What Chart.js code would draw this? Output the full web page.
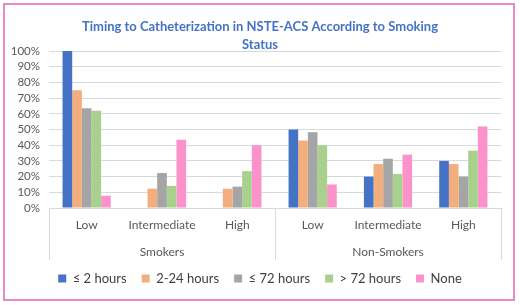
<!DOCTYPE html>
<html>
<head>
<meta charset="utf-8">
<script src="https://cdn.jsdelivr.net/npm/chart.js@4"></script>
<style>
  html, body { margin: 0; padding: 0; background: #fff; }
  #wrap { position: relative; width: 520px; height: 305px; }
  #frame { position: absolute; left: 3px; top: 3px; width: 508px; height: 294px; border: 2px solid #E48BC6; pointer-events: none; }
  canvas { position: absolute; left: 0; top: 0; }
</style>
</head>
<body>
<div id="wrap">
  <canvas id="c" width="520" height="305"></canvas>
  <div id="frame"></div>
</div>
<script>
const titleLines = ['Timing to Catheterization in NSTE-ACS According to Smoking', 'Status'];
const categories = ['Low', 'Intermediate', 'High', 'Low', 'Intermediate', 'High'];
const groups = ['Smokers', 'Non-Smokers'];
const seriesNames = ['\u2264 2 hours', '2-24 hours', '\u2264 72 hours', '> 72 hours', 'None'];
const le2h   = [100, null, null, 50, 20, 30];
const h2to24 = [75, 12.3, 12.3, 43, 28, 28];
const le72h  = [63.5, 22.3, 13.6, 48.3, 31.4, 20];
const gt72h  = [62, 14.1, 23.5, 40, 21.7, 36.6];
const none   = [7.8, 43.5, 40, 15, 34, 52];
const yTicks = [0, 10, 20, 30, 40, 50, 60, 70, 80, 90, 100];
const colors = ['#4472C4', '#F4AE7E', '#A5A5A5', '#A9D18E', '#FB92CB'];

const FONT = 'Lato, "Open Sans", sans-serif';
const values = [le2h, h2to24, le72h, gt72h, none];

const separators = {
  id: 'separators',
  afterDraw(chart) {
    const x = chart.scales.x, x2 = chart.scales.x2, area = chart.chartArea;
    const ctx = chart.ctx;
    const per = categories.length / groups.length;
    const xs = [area.left];
    for (let g = 1; g < groups.length; g++) {
      xs.push((x.getPixelForValue(g * per - 1) + x.getPixelForValue(g * per)) / 2);
    }
    xs.push(area.right);
    ctx.save();
    ctx.strokeStyle = '#D9D9D9';
    ctx.lineWidth = 1;
    xs.forEach(px => {
      const p = Math.round(px) + 0.5;
      ctx.beginPath();
      ctx.moveTo(p, area.bottom);
      ctx.lineTo(p, x2.bottom + 3);
      ctx.stroke();
    });
    ctx.restore();
  }
};

new Chart(document.getElementById('c'), {
  type: 'bar',
  data: {
    labels: categories,
    datasets: seriesNames.map((n, i) => ({
      label: n,
      data: values[i],
      backgroundColor: colors[i],
      borderWidth: 0,
      categoryPercentage: 0.64,
      barPercentage: 1.0,
      xAxisID: 'x'
    }))
  },
  options: {
    responsive: false,
    animation: false,
    devicePixelRatio: 1,
    layout: { padding: { left: 0, right: 0, top: 0, bottom: 10 } },
    plugins: {
      title: {
        display: true,
        text: titleLines,
        color: '#4472C4',
        font: { family: FONT, size: 13, weight: 'bold', lineHeight: 1.35 },
        padding: { top: 18, bottom: -2 }
      },
      legend: {
        position: 'bottom',
        labels: {
          boxWidth: 8,
          boxHeight: 8,
          padding: 15,
          color: '#404040',
          font: { family: FONT, size: 13 }
        }
      },
      tooltip: { enabled: false }
    },
    scales: {
      y: {
        min: 0,
        max: 100,
        afterBuildTicks(scale) { scale.ticks = yTicks.map(v => ({ value: v })); },
        afterFit(scale) { scale.width = 49; },
        ticks: {
          autoSkip: false,
          callback: v => v + '%',
          color: '#595959',
          font: { family: FONT, size: 11.5 },
          padding: 9
        },
        grid: { color: '#D9D9D9', drawTicks: false },
        border: { display: false }
      },
      yRight: {
        position: 'right',
        min: 0,
        max: 100,
        afterFit(scale) { scale.width = 19; },
        ticks: { display: false },
        grid: { display: false, drawOnChartArea: false, drawTicks: false },
        border: { display: false }
      },
      x: {
        position: 'bottom',
        afterFit(scale) { scale.height = 30; },
        ticks: { color: '#595959', font: { family: FONT, size: 12 }, padding: 10, maxRotation: 0, autoSkip: false },
        grid: { display: false, drawTicks: false },
        border: { display: true, color: '#D9D9D9' }
      },
      x2: {
        type: 'category',
        labels: groups,
        position: 'bottom',
        offset: true,
        afterFit(scale) { scale.height = 19; },
        ticks: { color: '#595959', font: { family: FONT, size: 12 }, padding: 7, maxRotation: 0, autoSkip: false },
        grid: { display: false, drawTicks: false },
        border: { display: false }
      }
    }
  },
  plugins: [separators]
});
</script>
</body>
</html>
